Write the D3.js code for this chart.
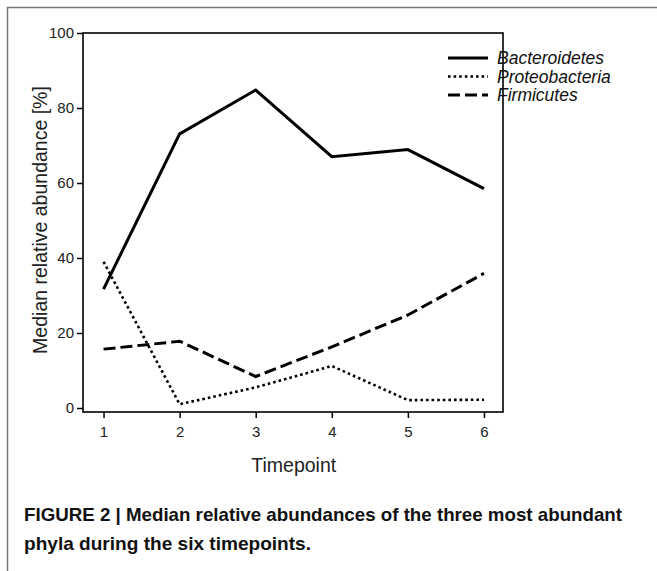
<!DOCTYPE html>
<html>
<head>
<meta charset="utf-8">
<script src="https://cdn.jsdelivr.net/npm/d3@7"></script>
<style>
  body { margin: 0; background: #fff; }
</style>
</head>
<body>
<script>
// Data
let timepoints = [1, 2, 3, 4, 5, 6];
let bacteroidetes = [31.7, 73.1, 84.8, 67.0, 68.9, 58.5];
let proteobacteria = [39.0, 1.0, 5.5, 11.2, 2.1, 2.2];
let firmicutes = [15.7, 17.8, 8.4, 16.3, 24.8, 35.9];
let yTicks = [0, 20, 40, 60, 80, 100];
let seriesNames = ["Bacteroidetes", "Proteobacteria", "Firmicutes"];

let width = 657;
let height = 571;
let margin = { top: 33, bottom: 159, left: 83, right: 154 };
let plotBottom = height - margin.bottom; // 412

let svg = d3.select("body")
  .append("svg")
  .attr("width", width)
  .attr("height", height)
  .style("font-family", "'Liberation Sans', Arial, sans-serif");

// outer figure frame (top and left)
svg.append("path")
  .attr("d", `M7.5,${height} V7.5 H${width}`)
  .attr("fill", "none")
  .attr("stroke", "#777")
  .attr("stroke-width", 1.5);

// scales
let xScale = d3.scaleLinear()
  .domain([0.73, 6.25])
  .range([margin.left, width - margin.right]);

let yScale = d3.scaleLinear()
  .domain([0, 100])
  .range([408, margin.top]);

// plot box
svg.append("rect")
  .attr("x", margin.left)
  .attr("y", margin.top)
  .attr("width", width - margin.right - margin.left)
  .attr("height", plotBottom - margin.top)
  .attr("fill", "none")
  .attr("stroke", "#000")
  .attr("stroke-width", 1.6);

// axes
let xAxis = svg.append("g")
  .attr("transform", `translate(0, ${plotBottom})`)
  .call(d3.axisBottom(xScale).tickValues(timepoints).tickFormat(d3.format("d")).tickSize(6).tickPadding(8));

let yAxis = svg.append("g")
  .attr("transform", `translate(${margin.left}, 0)`)
  .call(d3.axisLeft(yScale).tickValues(yTicks).tickFormat(d3.format("d")).tickSize(6).tickPadding(3));

[xAxis, yAxis].forEach(a => {
  a.select(".domain").remove();
  a.selectAll("line").attr("stroke", "#000").attr("stroke-width", 1.5);
  a.selectAll("text")
    .attr("fill", "#222")
    .attr("font-size", 15)
    .style("font-size", "15px")
    .style("font-family", "'Liberation Sans', Arial, sans-serif");
});

// lines
let line = d3.line()
  .x((d, i) => xScale(timepoints[i]))
  .y(d => yScale(d));

let styles = [
  { data: bacteroidetes, dash: null, w: 3 },
  { data: proteobacteria, dash: "2.6,3", w: 2.6 },
  { data: firmicutes, dash: "12,5", w: 3 }
];

styles.forEach(s => {
  svg.append("path")
    .datum(s.data)
    .attr("d", line)
    .attr("fill", "none")
    .attr("stroke", "#000")
    .attr("stroke-width", s.w)
    .attr("stroke-linejoin", "miter")
    .attr("stroke-dasharray", s.dash);
});

// legend
let legend = svg.selectAll(".legend")
  .data(seriesNames)
  .enter().append("g")
  .attr("class", "legend")
  .attr("transform", (d, i) => `translate(448, ${58 + i * 18.5})`);

legend.append("line")
  .attr("x1", 0)
  .attr("x2", 40)
  .attr("y1", 0)
  .attr("y2", 0)
  .attr("stroke", "#000")
  .attr("stroke-width", (d, i) => styles[i].w)
  .attr("stroke-dasharray", (d, i) => styles[i].dash);

legend.append("text")
  .attr("x", 49)
  .attr("y", 6)
  .style("font-size", "17.5px")
  .style("font-style", "italic")
  .attr("fill", "#111")
  .text(d => d);

// axis labels
svg.append("text")
  .attr("x", xScale(3.5))
  .attr("y", 472)
  .style("text-anchor", "middle")
  .style("font-size", "19.5px")
  .attr("fill", "#222")
  .text("Timepoint");

svg.append("text")
  .attr("transform", "rotate(-90)")
  .attr("x", -220)
  .attr("y", 47)
  .style("text-anchor", "middle")
  .style("font-size", "19.5px")
  .attr("fill", "#222")
  .text("Median relative abundance [%]");

// caption
let caption = [
  { t: "FIGURE 2 | Median relative abundances of the three most abundant", y: 521, len: 598 },
  { t: "phyla during the six timepoints.", y: 550, len: 287 }
];
svg.selectAll(".caption")
  .data(caption)
  .enter().append("text")
  .attr("class", "caption")
  .attr("x", 24)
  .attr("y", d => d.y)
  .attr("textLength", d => d.len)
  .attr("lengthAdjust", "spacingAndGlyphs")
  .style("font-size", "19px")
  .style("font-weight", "bold")
  .attr("fill", "#111")
  .text(d => d.t);
</script>
</body>
</html>
